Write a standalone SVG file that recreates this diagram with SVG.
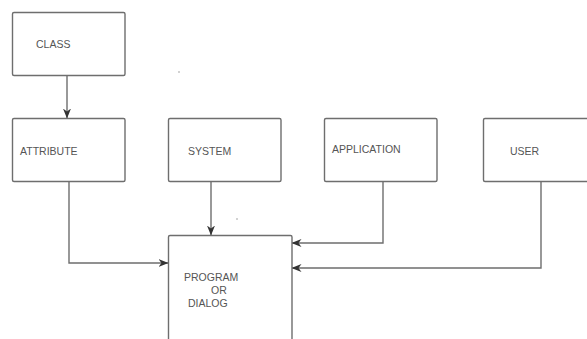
<svg xmlns="http://www.w3.org/2000/svg" width="587" height="339" viewBox="0 0 587 339">
<style>
.box{fill:#fff;stroke:#6e6e6e;stroke-width:1.4}
.ln{fill:none;stroke:#6e6e6e;stroke-width:1.4}
text{font-family:"Liberation Sans",Arial,sans-serif;font-size:10.5px;fill:#555}
</style>
<defs>
<marker id="ah" markerWidth="10" markerHeight="8" refX="9.5" refY="4" orient="auto" markerUnits="userSpaceOnUse">
<path d="M0,0 L10,4 L0,8 L3,4 Z" fill="#333"/>
</marker>
</defs>
<rect width="587" height="339" fill="#fff"/>
<g id="connectors">
<path class="ln" d="M67,75.5 V118" marker-end="url(#ah)"/>
<path class="ln" d="M69,182 V263 H168" marker-end="url(#ah)"/>
<path class="ln" d="M211,182 V235" marker-end="url(#ah)"/>
<path class="ln" d="M383,182 V243 H292" marker-end="url(#ah)"/>
<path class="ln" d="M541,182 V268 H292" marker-end="url(#ah)"/>
</g>
<g id="class"><rect class="box" x="12.5" y="12.5" width="112.5" height="63" rx="1.5"/><text x="36" y="47.5">CLASS</text></g>
<g id="attribute"><rect class="box" x="12.5" y="118.5" width="112.5" height="63" rx="1.5"/><text x="20" y="155">ATTRIBUTE</text></g>
<g id="system"><rect class="box" x="168.5" y="118.5" width="112.5" height="63" rx="1.5"/><text x="188" y="155">SYSTEM</text></g>
<g id="application"><rect class="box" x="324.5" y="118.5" width="112.5" height="63" rx="1.5"/><text x="332" y="152.5">APPLICATION</text></g>
<g id="user"><rect class="box" x="483.5" y="118.5" width="120" height="63" rx="1.5"/><text x="510" y="154.5">USER</text></g>
<g id="program"><rect class="box" x="168.5" y="235.5" width="123.5" height="120" rx="1.5"/><text x="184" y="280.5">PROGRAM</text><text x="211" y="293.5">OR</text><text x="188" y="306.5">DIALOG</text></g>
<circle cx="179" cy="72" r="0.8" fill="#999"/>
<circle cx="237" cy="219" r="0.8" fill="#999"/>
</svg>
